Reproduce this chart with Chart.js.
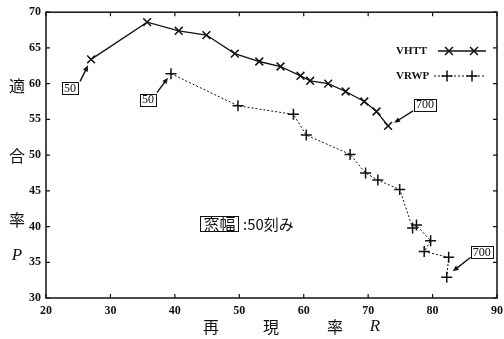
<!DOCTYPE html>
<html>
<head>
<meta charset="utf-8">
<script src="https://cdn.jsdelivr.net/npm/chart.js@4/dist/chart.umd.min.js"></script>
<style>
  html, body { margin: 0; padding: 0; background: #fff; }
  #wrap { width: 504px; height: 339px; }
</style>
</head>
<body>
<div id="wrap"><canvas id="c" width="504" height="339"></canvas></div>
<script>
// Recall R (x) and precision P (y) for each method, window step 50 .. 700
const vhttRecall    = [27.0, 35.7, 40.6, 44.9, 49.3, 53.1, 56.4, 59.5, 61.0, 63.8, 66.5, 69.4, 71.3, 73.1];
const vhttPrecision = [63.4, 68.6, 67.4, 66.8, 64.2, 63.1, 62.4, 61.1, 60.4, 60.0, 58.9, 57.5, 56.1, 54.1];
const vrwpRecall    = [39.4, 49.8, 58.4, 60.4, 67.2, 69.6, 71.5, 74.9, 76.9, 77.5, 79.7, 78.7, 82.5, 82.2];
const vrwpPrecision = [61.4, 56.9, 55.7, 52.8, 50.1, 47.5, 46.5, 45.2, 39.8, 40.2, 38.0, 36.5, 35.7, 32.9];

const seriesNames = ['VHTT', 'VRWP'];
const xTicks = [20, 30, 40, 50, 60, 70, 80, 90];
const yTicks = [30, 35, 40, 45, 50, 55, 60, 65, 70];
const windowLabels = ['50', '700'];           // first and last window size
const yTitleChars = ['適', '合', '率'];
const xTitleChars = ['再', '現', '率'];
const captionBoxed = '窓幅';
const captionRest = ':50刻み';

const INK = '#111';
const SERIF = '"Liberation Serif", "DejaVu Serif", serif';
const CJK = '"Noto Sans CJK JP", sans-serif';

function pts(xs, ys) { return xs.map((x, i) => ({ x, y: ys[i] })); }

// Draws an arrow from (x1,y1) to (x2,y2) with a filled head at the end
function arrow(ctx, x1, y1, x2, y2) {
  const a = Math.atan2(y2 - y1, x2 - x1);
  const h = 6, w = 2.6;
  ctx.beginPath();
  ctx.moveTo(x1, y1);
  ctx.lineTo(x2 - Math.cos(a) * h * 0.8, y2 - Math.sin(a) * h * 0.8);
  ctx.lineWidth = 1.4;
  ctx.stroke();
  ctx.beginPath();
  ctx.moveTo(x2, y2);
  ctx.lineTo(x2 - Math.cos(a) * h - Math.sin(a) * w, y2 - Math.sin(a) * h + Math.cos(a) * w);
  ctx.lineTo(x2 - Math.cos(a) * h + Math.sin(a) * w, y2 - Math.sin(a) * h - Math.cos(a) * w);
  ctx.closePath();
  ctx.fill();
}

function boxedText(ctx, text, cx, cy, font, padX, h) {
  ctx.font = font;
  const w = ctx.measureText(text).width + padX * 2;
  ctx.textAlign = 'center';
  ctx.textBaseline = 'middle';
  ctx.fillStyle = '#fff';
  ctx.fillRect(cx - w / 2, cy - h / 2, w, h);
  ctx.fillStyle = INK;
  ctx.fillText(text, cx, cy + 0.5);
  ctx.lineWidth = 1;
  ctx.strokeRect(Math.round(cx - w / 2) + 0.5, Math.round(cy - h / 2) + 0.5, Math.round(w), Math.round(h));
  return w;
}

function marker(ctx, style, x, y, r) {
  ctx.beginPath();
  if (style === 'crossRot') {
    const d = r * 0.72;
    ctx.moveTo(x - d, y - d); ctx.lineTo(x + d, y + d);
    ctx.moveTo(x - d, y + d); ctx.lineTo(x + d, y - d);
  } else {
    ctx.moveTo(x - r, y); ctx.lineTo(x + r, y);
    ctx.moveTo(x, y - r); ctx.lineTo(x, y + r);
  }
  ctx.stroke();
}

const framePlugin = {
  id: 'frame',
  afterDraw(chart) {
    const ctx = chart.ctx;
    const { left, right, top, bottom } = chart.chartArea;
    const xs = chart.scales.x, ys = chart.scales.y;
    ctx.save();
    ctx.strokeStyle = INK;
    ctx.fillStyle = INK;

    // frame
    ctx.lineWidth = 1.5;
    ctx.strokeRect(left, top, right - left, bottom - top);

    // inward ticks on all four sides
    ctx.lineWidth = 1.2;
    ctx.beginPath();
    xTicks.forEach(v => {
      const px = xs.getPixelForValue(v);
      ctx.moveTo(px, bottom); ctx.lineTo(px, bottom - 4);
      ctx.moveTo(px, top); ctx.lineTo(px, top + 4);
    });
    yTicks.forEach(v => {
      const py = ys.getPixelForValue(v);
      ctx.moveTo(left, py); ctx.lineTo(left + 4, py);
      ctx.moveTo(right, py); ctx.lineTo(right - 4, py);
    });
    ctx.stroke();

    // window size call-outs at both ends of each curve
    const sets = chart.data.datasets;
    const callouts = [
      { ds: 0, i: 0, text: windowLabels[0], dx: -21, dy: 29, ax: [-11, 22], tip: [-3, 6] },
      { ds: 1, i: 0, text: windowLabels[0], dx: -23, dy: 26, ax: [-14, 19], tip: [-3, 4] },
      { ds: 0, i: sets[0].data.length - 1, text: windowLabels[1], dx: 37, dy: -21, ax: [25, -15], tip: [6, -3] },
      { ds: 1, i: sets[1].data.length - 1, text: windowLabels[1], dx: 35, dy: -25, ax: [24, -20], tip: [6, -6] }
    ];
    callouts.forEach(c => {
      const p = sets[c.ds].data[c.i];
      const px = xs.getPixelForValue(p.x), py = ys.getPixelForValue(p.y);
      arrow(ctx, px + c.ax[0], py + c.ax[1], px + c.tip[0], py + c.tip[1]);
      boxedText(ctx, c.text, px + c.dx, py + c.dy, '12px ' + SERIF, 2, 12);
    });

    // legend: name, then a line sample with two markers
    const legend = [
      { name: seriesNames[0], y: 51, style: 'crossRot', dash: [], lw: 1.3, x0: 438, m: [449, 474] },
      { name: seriesNames[1], y: 76, style: 'cross', dash: [2, 2], lw: 1, x0: 434, m: [447, 472] }
    ];
    legend.forEach(l => {
      ctx.font = 'bold 11px ' + SERIF;
      ctx.textAlign = 'left';
      ctx.textBaseline = 'middle';
      ctx.fillText(l.name, 396, l.y + 0.5);
      ctx.setLineDash(l.dash);
      ctx.lineWidth = l.lw;
      ctx.beginPath();
      ctx.moveTo(l.x0, l.y); ctx.lineTo(486, l.y);
      ctx.stroke();
      ctx.setLineDash([]);
      ctx.lineWidth = 1.5;
      l.m.forEach(mx => marker(ctx, l.style, mx, l.y, 5.5));
    });

    // caption inside the plot
    boxedText(ctx, captionBoxed, 219.5, 223.5, '16px ' + CJK, 3, 15);
    ctx.font = '15px ' + CJK;
    ctx.textAlign = 'left';
    ctx.textBaseline = 'middle';
    ctx.fillText(captionRest, 243, 224);

    // axis titles, one character at a time
    ctx.textAlign = 'center';
    ctx.textBaseline = 'middle';
    ctx.font = '16px ' + CJK;
    [86, 156, 220].forEach((y, i) => ctx.fillText(yTitleChars[i], 17, y));
    ctx.font = 'italic 17px ' + SERIF;
    ctx.fillText('P', 17, 256);
    ctx.font = '16px ' + CJK;
    [211, 271, 335].forEach((x, i) => ctx.fillText(xTitleChars[i], x, 327));
    ctx.font = 'italic 17px ' + SERIF;
    ctx.fillText('R', 375, 327);

    ctx.restore();
  }
};

new Chart(document.getElementById('c'), {
  type: 'scatter',
  data: {
    datasets: [
      {
        label: seriesNames[0],
        data: pts(vhttRecall, vhttPrecision),
        showLine: true,
        borderColor: INK,
        borderWidth: 1.3,
        pointStyle: 'crossRot',
        pointRadius: 5.5,
        pointBorderWidth: 1.5,
        pointBorderColor: INK,
        tension: 0
      },
      {
        label: seriesNames[1],
        data: pts(vrwpRecall, vrwpPrecision),
        showLine: true,
        borderColor: INK,
        borderWidth: 1,
        borderDash: [2, 2],
        pointStyle: 'cross',
        pointRadius: 5.5,
        pointBorderWidth: 1.5,
        pointBorderColor: INK,
        tension: 0
      }
    ]
  },
  options: {
    responsive: false,
    animation: false,
    devicePixelRatio: 1,
    layout: { padding: { top: 10, right: 4, left: 0, bottom: 0 } },
    plugins: { legend: { display: false }, tooltip: { enabled: false } },
    scales: {
      x: {
        type: 'linear', min: 20, max: 90,
        afterBuildTicks: s => { s.ticks = xTicks.map(v => ({ value: v })); },
        ticks: { color: INK, font: { family: SERIF, size: 12, weight: 'bold' }, padding: 6, maxRotation: 0 },
        grid: { display: false, drawTicks: false },
        border: { display: false },
        afterFit: s => { s.height = 41; s.paddingLeft = 0; s.paddingRight = 0; }
      },
      y: {
        type: 'linear', min: 30, max: 70,
        afterBuildTicks: s => { s.ticks = yTicks.map(v => ({ value: v })); },
        ticks: { color: INK, font: { family: SERIF, size: 12, weight: 'bold' }, padding: 5 },
        grid: { display: false, drawTicks: false },
        border: { display: false },
        afterFit: s => { s.width = 46; }
      }
    }
  },
  plugins: [framePlugin]
});
</script>
</body>
</html>
